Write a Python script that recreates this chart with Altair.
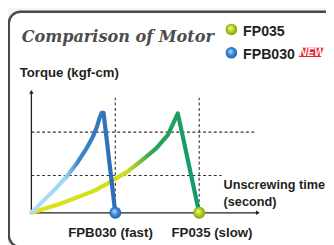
import altair as alt
import pandas as pd

# ---- data (time units, torque units) ----
blue_t = [0, 0.60, 1.21, 1.67, 2.14, 2.60, 2.93, 3.12, 3.26, 3.35, 3.44, 4.0]
blue_v = [0, 1.3, 2.6, 3.7, 5.0, 6.5, 7.8, 8.8, 9.8, 10.25, 10.25, 0]
green_t = [0, 1.35, 2.93, 3.63, 4.56, 5.16, 5.95, 6.51, 6.98, 8.0]
green_v = [0, 0.9, 2.2, 3.0, 4.2, 5.2, 6.6, 8.0, 10.2, 0]
end_names = ["FPB030", "FP035"]
end_t = [4.0, 8.0]
end_labels = ["FPB030 (fast)", "FP035 (slow)"]
label_t = [3.77, 8.61]
hdash_v = [8.27, 3.83]
hdash_t2 = [10.7, 9.07]
vdash_t = [4.0, 8.0]
vdash_v2 = 11.8
xaxis_end = 10.8
yaxis_end = 12.4

W, H = 326, 237
xs = alt.Scale(domain=[-24 / 21.5, (W - 24) / 21.5], nice=False, zero=False)
ys = alt.Scale(domain=[-3.0, 20.7], nice=False, zero=False)
X = lambda f: alt.X(f, type="quantitative", scale=xs, axis=None)
Y = lambda f: alt.Y(f, type="quantitative", scale=ys, axis=None)

one = pd.DataFrame({"a": [0]})
TXT = "#231f20"
FONT = "Liberation Sans"

panel = alt.Chart(one).mark_rect(
    fill="white", stroke="#4a4a4a", strokeWidth=2.5, cornerRadius=12
).encode(x=alt.value(0.8), x2=alt.value(400), y=alt.value(0.8), y2=alt.value(242))

hd = pd.DataFrame({"t": [0, 0], "t2": hdash_t2, "v": hdash_v})
hdash = alt.Chart(hd).mark_rule(color="#333", strokeWidth=1.1, strokeDash=[3, 2.5]).encode(
    x=X("t"), x2="t2", y=Y("v"))
vd = pd.DataFrame({"t": vdash_t, "v": [0, 0], "v2": [vdash_v2] * 2})
vdash = alt.Chart(vd).mark_rule(color="#333", strokeWidth=1.1, strokeDash=[3, 2.5]).encode(
    x=X("t"), y=Y("v"), y2="v2")

ax = pd.DataFrame({"t": [0, 0], "t2": [xaxis_end, 0], "v": [0, 0], "v2": [0, yaxis_end]})
axes = alt.Chart(ax).mark_rule(color=TXT, strokeWidth=1.3).encode(
    x=X("t"), x2="t2", y=Y("v"), y2="v2")
arr = pd.DataFrame({"t": [xaxis_end, 0], "v": [0, yaxis_end], "s": ["triangle-right", "triangle-up"]})
arrows = alt.Chart(arr).mark_point(filled=True, color=TXT, opacity=1, size=22).encode(
    x=X("t"), y=Y("v"), shape=alt.Shape("s:N", scale=None, legend=None))

gdf = pd.DataFrame({"t": green_t, "v": green_v, "o": list(range(len(green_t)))})
green = alt.Chart(gdf).mark_line(
    strokeWidth=4.3, strokeJoin="round", strokeCap="round",
    stroke=alt.LinearGradient(gradient="linear", x1=0, x2=1, y1=0, y2=0, stops=[
        alt.GradientStop(offset=0, color="#dde41a"),
        alt.GradientStop(offset=0.57, color="#d0dc1c"),
        alt.GradientStop(offset=0.72, color="#2aa55a"),
        alt.GradientStop(offset=1, color="#11996a")])
).encode(x=X("t"), y=Y("v"), order="o:Q")

bdf = pd.DataFrame({"t": blue_t, "v": blue_v, "o": list(range(len(blue_t)))})
blue = alt.Chart(bdf).mark_line(
    strokeWidth=4.3, strokeJoin="round", strokeCap="round",
    stroke=alt.LinearGradient(gradient="linear", x1=0, x2=1, y1=0, y2=0, stops=[
        alt.GradientStop(offset=0, color="#b0e0f7"),
        alt.GradientStop(offset=0.40, color="#9dd5f2"),
        alt.GradientStop(offset=0.56, color="#3d86c9"),
        alt.GradientStop(offset=1, color="#2e6cb3")])
).encode(x=X("t"), y=Y("v"), order="o:Q")

def ball(c_light, c_mid, c_dark):
    return alt.RadialGradient(gradient="radial", x1=0.4, y1=0.35, r1=0, x2=0.5, y2=0.5, r2=0.55,
                              stops=[alt.GradientStop(offset=0, color=c_light),
                                     alt.GradientStop(offset=0.5, color=c_mid),
                                     alt.GradientStop(offset=1, color=c_dark)])

BLUE_BALL = ball("#bfe3ff", "#3c8ad6", "#1d5aa8")
GREEN_BALL = ball("#f4f79a", "#b8d21a", "#6f9a0c")

ed = pd.DataFrame({"n": end_names, "t": end_t, "v": [0, 0]})
m_blue = alt.Chart(ed[ed.n == "FPB030"]).mark_circle(size=150, opacity=1, fill=BLUE_BALL).encode(
    x=X("t"), y=Y("v"))
m_green = alt.Chart(ed[ed.n == "FP035"]).mark_circle(size=150, opacity=1, fill=GREEN_BALL).encode(
    x=X("t"), y=Y("v"))

ld = pd.DataFrame({"lab": end_labels, "t": label_t, "v": [-2.5, -2.5]})
end_text = alt.Chart(ld).mark_text(font=FONT, fontWeight="bold", fontSize=13.6, color=TXT,
                                   align="center", baseline="alphabetic").encode(
    x=X("t"), y=Y("v"), text="lab:N")

title = alt.Chart(one).mark_text(
    text="Comparison of Motor", font="DejaVu Serif", fontStyle="italic", fontWeight="bold",
    fontSize=16.5, color="#4d4d4d", align="left", baseline="alphabetic"
).encode(x=alt.value(14), y=alt.value(32))

leg_g = alt.Chart(one).mark_circle(size=140, opacity=1, fill=GREEN_BALL).encode(
    x=alt.value(229), y=alt.value(19))
leg_b = alt.Chart(one).mark_circle(size=140, opacity=1, fill=BLUE_BALL).encode(
    x=alt.value(229), y=alt.value(43))
leg_t1 = alt.Chart(one).mark_text(text="FP035", font=FONT, fontWeight="bold", fontSize=14.5,
                                  color=TXT, align="left", baseline="alphabetic").encode(
    x=alt.value(241), y=alt.value(26))
leg_t2 = alt.Chart(one).mark_text(text="FPB030", font=FONT, fontWeight="bold", fontSize=14.5,
                                  color=TXT, align="left", baseline="alphabetic").encode(
    x=alt.value(241), y=alt.value(49))
badge = alt.Chart(one).mark_point(
    shape="M -0.76 -0.36 L 1 -0.36 L 0.76 0.36 L -1 0.36 Z", size=680, filled=True,
    fill="#e8262b", opacity=1, strokeWidth=0
).encode(x=alt.value(311), y=alt.value(42.5))
badge_t = alt.Chart(one).mark_text(text="NEW", font=FONT, fontWeight="bold", fontStyle="italic",
                                   fontSize=11, color="white", align="center", baseline="middle").encode(
    x=alt.value(311.5), y=alt.value(43))

ylab = alt.Chart(one).mark_text(text="Torque (kgf-cm)", font=FONT, fontWeight="bold", fontSize=13.5,
                                color=TXT, align="left", baseline="alphabetic").encode(
    x=alt.value(12), y=alt.value(68))
xlab = alt.Chart(one).mark_text(text=["Unscrewing time", "(second)"], font=FONT, fontWeight="bold",
                                fontSize=13, color=TXT, align="left", baseline="alphabetic",
                                lineHeight=17).encode(
    x=alt.value(221), y=alt.value(183))

chart = alt.layer(
    panel, hdash, vdash, axes, arrows, green, blue, m_blue, m_green, end_text,
    title, leg_g, leg_b, leg_t1, leg_t2, badge, badge_t, ylab, xlab
).properties(
    width=W, height=H, autosize=alt.AutoSizeParams(type="none"), padding=0,
    background="#eef5fb"
).configure_view(stroke=None)

chart.save("out.html", embed_options={"renderer": "svg", "actions": False})
